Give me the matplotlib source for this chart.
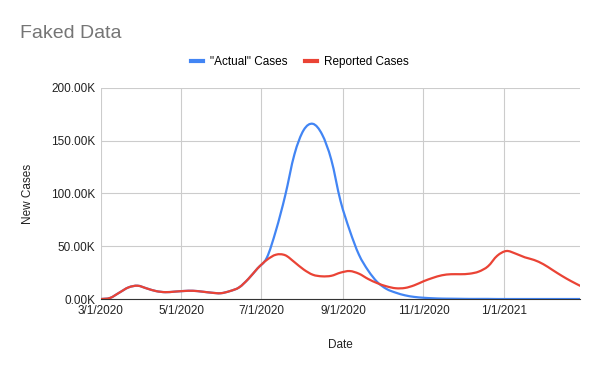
import numpy as np
import pandas as pd
import matplotlib
matplotlib.use('Agg')
import matplotlib.pyplot as plt
import matplotlib.dates as mdates
from matplotlib.path import Path
from matplotlib.patches import PathPatch
from matplotlib.lines import Line2D
from matplotlib.ticker import FuncFormatter

# Weekly samples (values in thousands)
dates = pd.date_range('2020-03-01', '2021-02-28', freq='7D')

reported = [0, 1, 6, 11, 12.6, 10, 7.5, 6.5, 7, 7.6, 7.8, 7, 6, 5.5, 7.5, 11,
            19, 29, 37, 42, 41.5, 35, 28, 23, 21.5, 22, 25, 26.5, 24, 19, 15,
            12, 10.2, 10.5, 13, 16.8, 20, 22.5, 23.5, 23.5, 24, 26, 31, 41,
            45.5, 43, 39.5, 37, 33, 27.5, 22, 17, 12.5]

actual = [0, 1, 6, 11, 12.6, 10, 7.5, 6.5, 7, 7.6, 7.8, 7, 6, 5.5, 7.5, 11,
          19, 29, 39, 65, 98, 137, 160, 166, 156, 132, 93, 65, 42, 27, 16,
          9.5, 6, 3.5, 2, 1.2, 0.7, 0.4, 0.3, 0.2, 0.1, 0.1, 0.1, 0, 0, 0, 0,
          0, 0, 0, 0, 0, 0]

tick_dates = pd.to_datetime(['2020-03-01', '2020-05-01', '2020-07-01',
                             '2020-09-01', '2020-11-01', '2021-01-01'])
tick_labels = ['3/1/2020', '5/1/2020', '7/1/2020', '9/1/2020', '11/1/2020', '1/1/2021']
y_ticks = [0, 50, 100, 150, 200]

BLUE = '#4285F4'
RED = '#EA4335'


def smooth_path(x, y):
    # Catmull-Rom through the points, drawn as cubic bezier segments
    x = np.asarray(x, float)
    y = np.asarray(y, float)
    pts = np.column_stack([x, y])
    ext = np.vstack([pts[0], pts, pts[-1]])
    verts = [pts[0]]
    codes = [Path.MOVETO]
    for i in range(1, len(ext) - 2):
        p0, p1, p2, p3 = ext[i - 1], ext[i], ext[i + 1], ext[i + 2]
        c1 = p1 + (p2 - p0) / 6
        c2 = p2 - (p3 - p1) / 6
        verts += [c1, c2, p2]
        codes += [Path.CURVE4] * 3
    return Path(verts, codes)


plt.rcParams['font.family'] = ['Liberation Sans', 'DejaVu Sans']

fig = plt.figure(figsize=(6, 3.71), dpi=100)
ax = fig.add_axes([0.168, 0.194, 0.799, 0.569])

xnum = mdates.date2num(dates)
for vals, col in [(actual, BLUE), (reported, RED)]:
    ax.add_patch(PathPatch(smooth_path(xnum, vals), fill=False, edgecolor=col,
                           lw=1.6, capstyle='round', joinstyle='round'))

ax.set_xlim(dates[0], dates[-1])
ax.set_ylim(0, 200)
ax.xaxis_date()
ax.set_xticks(tick_dates)
ax.set_xticklabels(tick_labels)
ax.set_yticks(y_ticks)
ax.yaxis.set_major_formatter(FuncFormatter(lambda v, p: f'{v:.2f}K'))

ax.grid(True, color='#cccccc', lw=0.8)
ax.set_axisbelow(True)
for s in ['top', 'right', 'left']:
    ax.spines[s].set_visible(False)
ax.spines['bottom'].set_color('#333333')
ax.spines['bottom'].set_zorder(3)
ax.tick_params(length=0, labelsize=8.5, colors='#222222', pad=4)

ax.set_xlabel('Date', fontsize=8.5, color='#222222', labelpad=16)
ax.set_ylabel('New Cases', fontsize=8.5, color='#222222', labelpad=12)

fig.text(0.034, 0.897, 'Faked Data', fontsize=14, color='#757575')

handles = [Line2D([], [], color=BLUE, lw=3), Line2D([], [], color=RED, lw=3)]
fig.legend(handles, ['"Actual" Cases', 'Reported Cases'], loc='center',
           bbox_to_anchor=(0.5, 0.833), ncol=2, frameon=False, fontsize=8.5,
           handlelength=1.0, columnspacing=1.45, handletextpad=0.6,
           borderpad=0, borderaxespad=0)

fig.savefig('out.png', dpi=100)
